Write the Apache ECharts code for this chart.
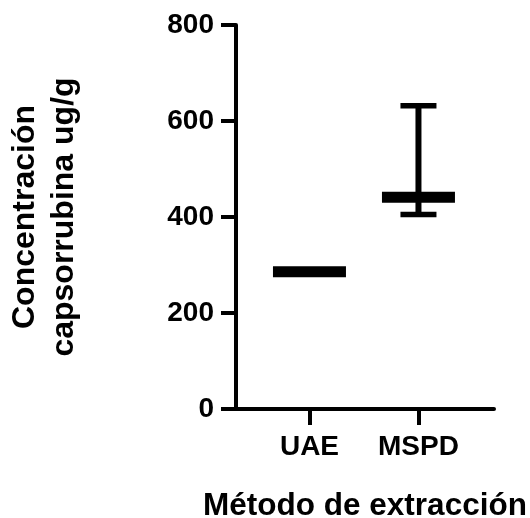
<!DOCTYPE html>
<html>
<head>
<meta charset="utf-8">
<script src="https://cdn.jsdelivr.net/npm/echarts@6/dist/echarts.min.js"></script>
<style>
html,body{margin:0;padding:0;background:#fff;}
#c{width:530px;height:518px;}
</style>
</head>
<body>
<div id="c"></div>
<script>
// ---- data ----
const categories = ['UAE', 'MSPD'];
const means = [286, 441];
const errLow = [286, 405];
const errHigh = [286, 632];
const yTicks = [0, 200, 400, 600, 800];
const xTitle = 'Método de extracción';
const yTitle = 'Concentración\ncapsorrubina ug/g';

const FONT = '"Liberation Sans", Arial, Helvetica, sans-serif';
const catPos = categories.map((c, i) => i + 1);
const meanData = categories.map((c, i) => [catPos[i], means[i]]);
const errData = categories.map((c, i) => [catPos[i], errLow[i], errHigh[i]]);

const chart = echarts.init(document.getElementById('c'), null, {renderer: 'canvas'});
chart.setOption({
  animation: false,
  backgroundColor: '#ffffff',
  grid: {left: 236, top: 25, width: 258, height: 384, containLabel: false, outerBoundsMode: 'none'},
  xAxis: {
    type: 'value',
    min: 0.326,
    max: 2.693,
    name: xTitle,
    nameLocation: 'middle',
    nameGap: 81,
    nameTextStyle: {color: '#000', fontFamily: FONT, fontWeight: 'bold', fontSize: 31.5},
    splitLine: {show: false},
    axisLine: {show: true, onZero: false, lineStyle: {color: '#000', width: 4}},
    axisTick: {show: true, inside: false, length: 16, customValues: catPos, lineStyle: {color: '#000', width: 4}},
    axisLabel: {
      show: true, margin: 24, customValues: catPos,
      color: '#000', fontFamily: FONT, fontWeight: 'bold', fontSize: 28,
      formatter: v => categories[Math.round(v) - 1] || ''
    }
  },
  yAxis: {
    type: 'value',
    min: yTicks[0],
    max: yTicks[yTicks.length - 1],
    interval: yTicks[1] - yTicks[0],
    name: yTitle,
    nameLocation: 'middle',
    nameGap: 152,
    nameRotate: 90,
    nameTextStyle: {color: '#000', fontFamily: FONT, fontWeight: 'bold', fontSize: 32, lineHeight: 39, align: 'center'},
    splitLine: {show: false},
    axisLine: {show: true, lineStyle: {color: '#000', width: 4}},
    axisTick: {show: true, inside: false, length: 15, lineStyle: {color: '#000', width: 4}},
    axisLabel: {margin: 22, color: '#000', fontFamily: FONT, fontWeight: 'bold', fontSize: 28}
  },
  series: [
    {
      type: 'custom',
      name: 'error',
      data: errData,
      encode: {x: 0, y: [1, 2]},
      renderItem: function (params, api) {
        const x = api.value(0), lo = api.value(1), hi = api.value(2);
        if (hi === lo) return null;
        const pLo = api.coord([x, lo]);
        const pHi = api.coord([x, hi]);
        const capW = 36;
        const st = {stroke: '#000', lineWidth: 5.5};
        return {
          type: 'group',
          children: [
            {type: 'line', shape: {x1: pLo[0], y1: pLo[1], x2: pHi[0], y2: pHi[1]}, style: {stroke: '#000', lineWidth: 6}},
            {type: 'line', shape: {x1: pHi[0] - capW / 2, y1: pHi[1], x2: pHi[0] + capW / 2, y2: pHi[1]}, style: st},
            {type: 'line', shape: {x1: pLo[0] - capW / 2, y1: pLo[1], x2: pLo[0] + capW / 2, y2: pLo[1]}, style: st}
          ]
        };
      }
    },
    {
      type: 'custom',
      name: 'mean',
      data: meanData,
      encode: {x: 0, y: 1},
      renderItem: function (params, api) {
        const p = api.coord([api.value(0), api.value(1)]);
        const w = 73, h = 11;
        return {type: 'rect', shape: {x: p[0] - w / 2, y: p[1] - h / 2, width: w, height: h}, style: {fill: '#000'}};
      }
    }
  ]
});
</script>
</body>
</html>
